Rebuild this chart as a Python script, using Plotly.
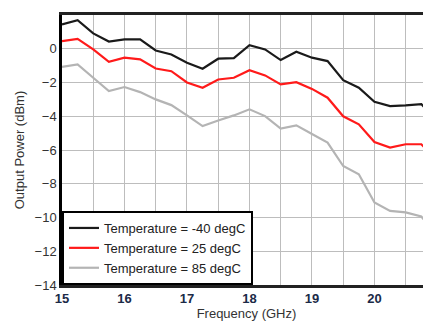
import plotly.graph_objects as go

# frequency points (GHz), 0.25 GHz step
freq = [15.0, 15.25, 15.5, 15.75, 16.0, 16.25, 16.5, 16.75, 17.0, 17.25, 17.5, 17.75,
        18.0, 18.25, 18.5, 18.75, 19.0, 19.25, 19.5, 19.75, 20.0, 20.25, 20.5, 20.75, 21.0]

# output power (dBm)
p_m40 = [1.44, 1.69, 0.91, 0.43, 0.55, 0.55, -0.10, -0.34, -0.83, -1.18, -0.59, -0.56,
         0.21, -0.04, -0.67, -0.18, -0.53, -0.73, -1.86, -2.31, -3.14, -3.40, -3.36, -3.28, -4.3]
p_25 = [0.45, 0.59, -0.04, -0.77, -0.53, -0.63, -1.17, -1.33, -2.00, -2.31, -1.82, -1.72,
        -1.27, -1.58, -2.11, -1.98, -2.38, -2.90, -4.00, -4.48, -5.53, -5.86, -5.66, -5.66, -6.6]
p_85 = [-1.07, -0.93, -1.72, -2.51, -2.27, -2.57, -3.00, -3.34, -3.95, -4.58, -4.25, -3.95,
        -3.59, -3.99, -4.73, -4.54, -5.05, -5.56, -6.95, -7.44, -9.11, -9.61, -9.70, -9.94, -11.1]

names = ['Temperature = -40 degC', 'Temperature = 25 degC', 'Temperature = 85 degC']
colors = ['#1a1a1a', '#ff1a1a', '#b4b4b4']

xticks = [15, 16, 17, 18, 19, 20, 21]
yticks = [2, 0, -2, -4, -6, -8, -10, -12, -14]

fig = go.Figure()
for name, vals, col in zip(names, [p_m40, p_25, p_85], colors):
    fig.add_trace(go.Scatter(x=freq, y=vals, name=name, mode='lines',
                             line=dict(color=col, width=2.2)))

# page body has an 8px margin, so the figure is 8px smaller than the window
fig.update_layout(
    width=423, height=319,
    margin=dict(l=54, r=0, t=7, b=42),
    plot_bgcolor='white', paper_bgcolor='white',
    font=dict(family='Arial, Liberation Sans, sans-serif', size=13, color='#333333'),
    legend=dict(x=0, y=0, xanchor='left', yanchor='bottom',
                bgcolor='white', bordercolor='black', borderwidth=2,
                font=dict(size=13, color='#222222'), tracegroupgap=0),
)
fig.update_xaxes(
    range=[15, 20.905], tickvals=xticks, ticktext=[str(t) for t in xticks],
    showgrid=True, gridcolor='#bdbdbd', gridwidth=1,
    minor=dict(dtick=0.5, tick0=15, showgrid=True, gridcolor='#bdbdbd', gridwidth=1),
    showline=True, linecolor='#222222', linewidth=2.5, mirror=True,
    tickfont=dict(size=13, color='#1b2a47', family='Arial, sans-serif', weight='bold'),
    title=dict(text='Frequency (GHz)', font=dict(size=13, color='#333333'), standoff=0),
    zeroline=False,
)
fig.update_yaxes(
    range=[-14, 2], tickvals=yticks,
    showgrid=True, gridcolor='#bdbdbd', gridwidth=1,
    showline=True, linecolor='black', linewidth=2.5,
    title=dict(text='Output Power (dBm)', font=dict(size=13, color='#333333'), standoff=8),
    zeroline=False,
)

fig.write_html("out.html")
